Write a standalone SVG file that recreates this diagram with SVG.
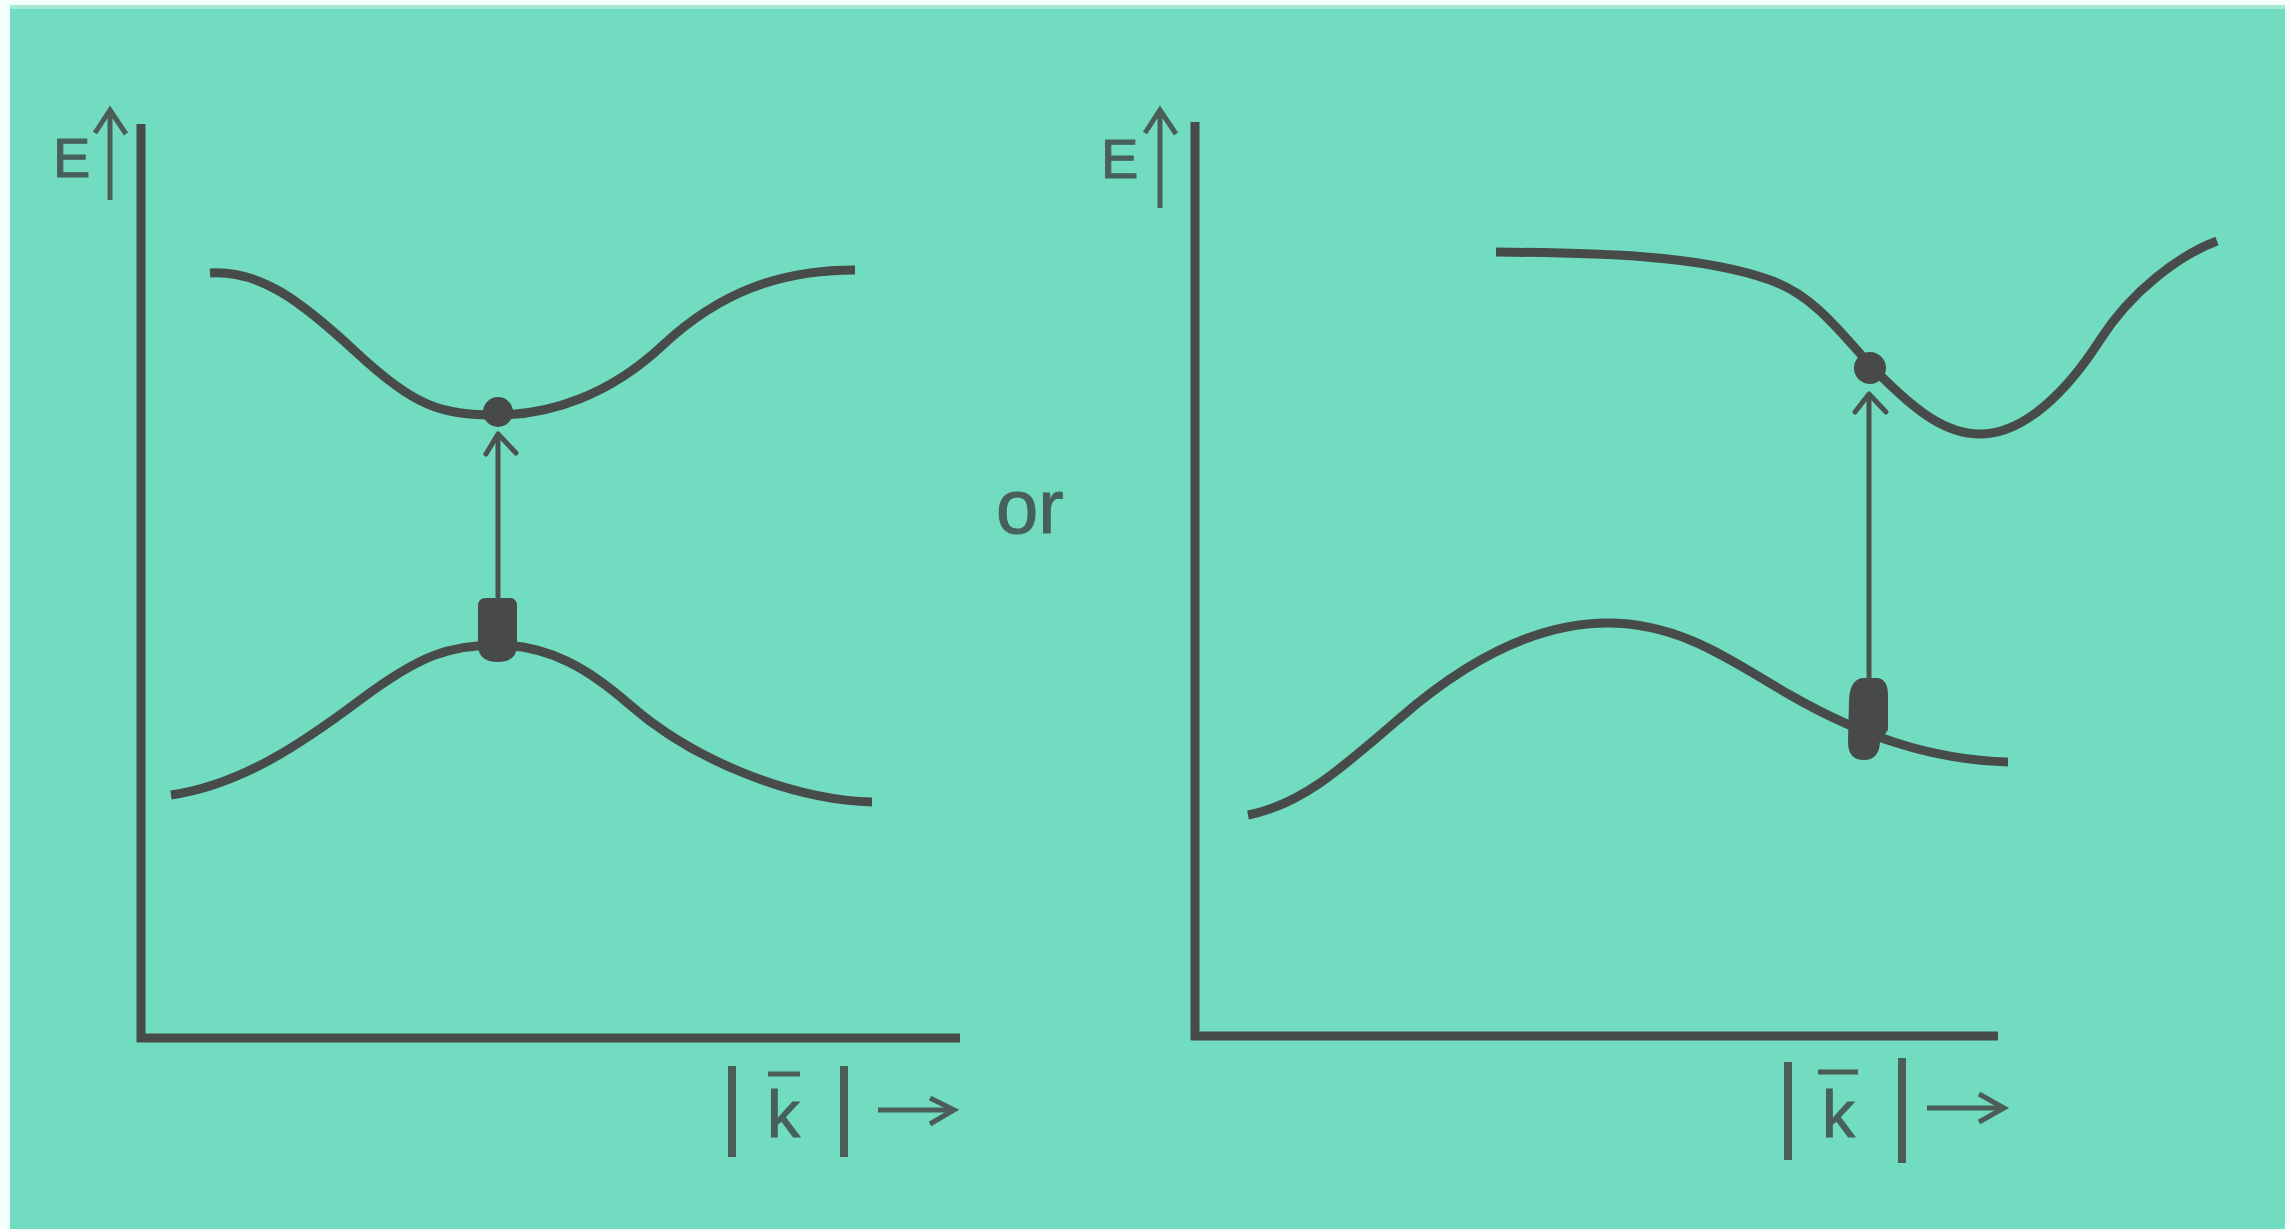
<svg xmlns="http://www.w3.org/2000/svg" width="2290" height="1229" viewBox="0 0 2290 1229">
  <style>
    .bg { fill: #71dcc0; }
    .axis { stroke: #474c4a; stroke-width: 9; fill: none; stroke-linecap: butt; }
    .band { stroke: #474c4a; stroke-width: 9; fill: none; stroke-linecap: butt; }
    .thin { stroke: #4a524f; stroke-width: 5; fill: none; }
    .head { stroke: #4a524f; stroke-width: 5; fill: none; stroke-linecap: round; stroke-linejoin: round; }
    .lbl { stroke: #4a5e57; stroke-width: 5; fill: none; }
    .bar { stroke: #4a5e57; stroke-width: 8; fill: none; }
    .dot { fill: #474a49; }
    .txt { font-family: "Liberation Sans", Arial, sans-serif; fill: #48605a; stroke: #48605a; stroke-width: 1; }
  </style>
  <rect x="0" y="0" width="2290" height="1229" fill="#f4fffb"/>
  <rect class="bg" x="10" y="5" width="2275" height="1224"/>
  <rect x="10" y="5" width="2275" height="4" fill="#a4e8d6"/>

  <!-- Left panel -->
  <g id="left-axes">
    <line class="axis" x1="141" y1="124" x2="141" y2="1042"/>
    <line class="axis" x1="137" y1="1038" x2="960" y2="1038"/>
  </g>
  <g id="left-E-label">
    <text class="txt" x="53" y="177" font-size="56">E</text>
    <line class="lbl" x1="110" y1="200" x2="110" y2="110"/>
    <polyline class="lbl" points="95,133 110,110 126,134"/>
  </g>
  <g id="left-k-label">
    <line class="bar" x1="732" y1="1066" x2="732" y2="1157"/>
    <text class="txt" x="767" y="1137" font-size="66">k</text>
    <line class="lbl" x1="768" y1="1074" x2="800" y2="1074"/>
    <line class="bar" x1="844" y1="1066" x2="844" y2="1157"/>
    <line class="lbl" x1="878" y1="1110" x2="954" y2="1110"/>
    <polyline class="lbl" points="930,1098 954,1110 930,1124"/>
  </g>
  <g id="left-upper-band">
    <path class="band" d="M210,273 C260,270 300,300 357,353 C414,406 440,415 497,415 C550,415 610,395 663,345 C720,292 780,270 855,270"/>
  </g>
  <g id="left-lower-band">
    <path class="band" d="M171,795 C240,785 300,745 360,700 C420,655 450,645 497,645 C550,645 590,670 630,705 C700,766 800,800 872,802"/>
  </g>
  <g id="left-electron">
    <circle class="dot" cx="498" cy="412" r="15"/>
  </g>
  <g id="left-hole">
    <path class="dot" d="M486,598 L510,598 Q517,598 517,606 L517,645 Q517,662 498,662 Q478,662 478,645 L478,606 Q478,598 486,598 Z"/>
  </g>

  <!-- "or" -->
  <g id="or-label">
    <text class="txt" x="996" y="533" font-size="76">or</text>
  </g>

  <!-- Right panel -->
  <g id="right-axes">
    <line class="axis" x1="1195" y1="122" x2="1195" y2="1040"/>
    <line class="axis" x1="1191" y1="1036" x2="1998" y2="1036"/>
  </g>
  <g id="right-E-label">
    <text class="txt" x="1101" y="178" font-size="56">E</text>
    <line class="lbl" x1="1160" y1="208" x2="1160" y2="110"/>
    <polyline class="lbl" points="1145,133 1160,110 1176,134"/>
  </g>
  <g id="right-k-label">
    <line class="bar" x1="1788" y1="1062" x2="1788" y2="1160"/>
    <text class="txt" x="1822" y="1137" font-size="66">k</text>
    <line class="lbl" x1="1818" y1="1072" x2="1858" y2="1072"/>
    <line class="bar" x1="1902" y1="1058" x2="1902" y2="1163"/>
    <line class="lbl" x1="1927" y1="1108" x2="2004" y2="1108"/>
    <polyline class="lbl" points="1979,1094 2004,1108 1979,1122"/>
  </g>
  <g id="right-upper-band">
    <path class="band" d="M1496,252 C1600,253 1700,255 1770,280 C1820,298 1845,340 1880,375 C1915,410 1945,434 1980,434 C2025,434 2068,390 2100,340 C2132,290 2180,255 2217,241"/>
  </g>
  <g id="right-lower-band">
    <path class="band" d="M1248,815 C1300,805 1340,770 1400,718 C1470,657 1540,623 1608,623 C1680,623 1730,660 1790,695 C1860,735 1930,760 2008,762"/>
  </g>
  <g id="right-electron">
    <circle class="dot" cx="1870" cy="368" r="16"/>
  </g>
  <g id="right-hole">
    <path class="dot" d="M1862,678 L1878,678 Q1888,680 1888,695 L1888,730 Q1884,736 1880,740 Q1880,760 1864,760 Q1848,760 1848,742 L1849,700 Q1850,680 1862,678 Z"/>
  </g>

  <!-- Connectors -->
  <g id="connectors">
    <line class="thin" x1="498" y1="600" x2="498" y2="434"/>
    <polyline class="head" points="486,454 498,434 516,453"/>
    <line class="thin" x1="1869" y1="680" x2="1869" y2="394"/>
    <polyline class="head" points="1855,412 1869,394 1886,412"/>
  </g>
</svg>
